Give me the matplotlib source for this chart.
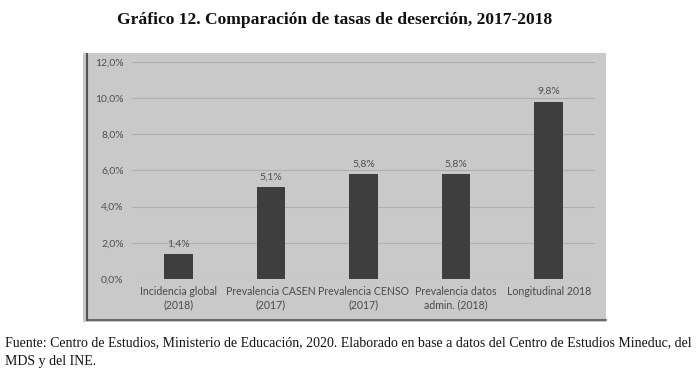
import matplotlib.pyplot as plt
import numpy as np
from matplotlib.patches import Rectangle
from matplotlib.lines import Line2D

categories = [
    "Incidencia global\n(2018)",
    "Prevalencia CASEN\n(2017)",
    "Prevalencia CENSO\n(2017)",
    "Prevalencia datos\nadmin. (2018)",
    "Longitudinal 2018",
]
rates = [1.4, 5.1, 5.8, 5.8, 9.8]
y_ticks = [0, 2, 4, 6, 8, 10, 12]

title = "Gráfico 12. Comparación de tasas de deserción, 2017-2018"
source = ("Fuente: Centro de Estudios, Ministerio de Educación, 2020. Elaborado en base a datos del Centro de Estudios Mineduc, del\n"
          "MDS y del INE.")

W, H = 696, 378
fig = plt.figure(figsize=(W / 100, H / 100), dpi=100)
fig.patch.set_facecolor("white")


def fx(px):
    return px / W


def fy(py):
    return 1 - py / H


# scanned chart background
fig.patches.append(Rectangle((fx(83), fy(322)), fx(606) - fx(83), fy(53) - fy(322),
                             transform=fig.transFigure, facecolor="#c9c9c9", edgecolor="none", zorder=-2))
fig.lines.append(Line2D([fx(87), fx(87)], [fy(320), fy(54)], transform=fig.transFigure,
                        color="#555555", linewidth=1.5, zorder=-1))
fig.lines.append(Line2D([fx(87), fx(606)], [fy(319.5), fy(319.5)], transform=fig.transFigure,
                        color="#555555", linewidth=1.2, zorder=-1))

ax = fig.add_axes([fx(132), fy(279), fx(595) - fx(132), fy(61.7) - fy(279)])
ax.set_zorder(2)
ax.set_facecolor("none")

x = np.arange(len(categories))
ax.bar(x, rates, width=0.31, color="#3e3e3e", zorder=3)
for xi, v in zip(x, rates):
    ax.text(xi, v + 0.3, f"{v:.1f}%".replace(".", ","), ha="center", va="bottom",
            fontsize=7.5, color="#4f4f4f", family="Lato")

ax.set_xlim(-0.5, len(categories) - 0.5)
ax.set_ylim(0, 12)
ax.set_yticks(y_ticks)
ax.set_yticklabels([f"{t:.1f}%".replace(".", ",") for t in y_ticks], fontsize=7.5, color="#4f4f4f", family="Lato")
ax.set_xticks(x)
ax.set_xticklabels(categories, fontsize=7.6, color="#4a4a4a", family="Lato", linespacing=1.25)
ax.tick_params(length=0, pad=6)
ax.tick_params(axis="x", pad=5)
ax.grid(axis="y", color="#b0b0b0", linewidth=0.8, zorder=0)
for spine in ax.spines.values():
    spine.set_visible(False)

fig.text(fx(335), fy(20), title, ha="center", va="center", fontsize=12.6,
         fontweight="bold", family="Liberation Serif", color="#111111")
fig.text(fx(5), fy(336), source, ha="left", va="top", fontsize=10,
         family="Liberation Serif", color="#111111", linespacing=1.65)

fig.savefig("out.png", dpi=100)
